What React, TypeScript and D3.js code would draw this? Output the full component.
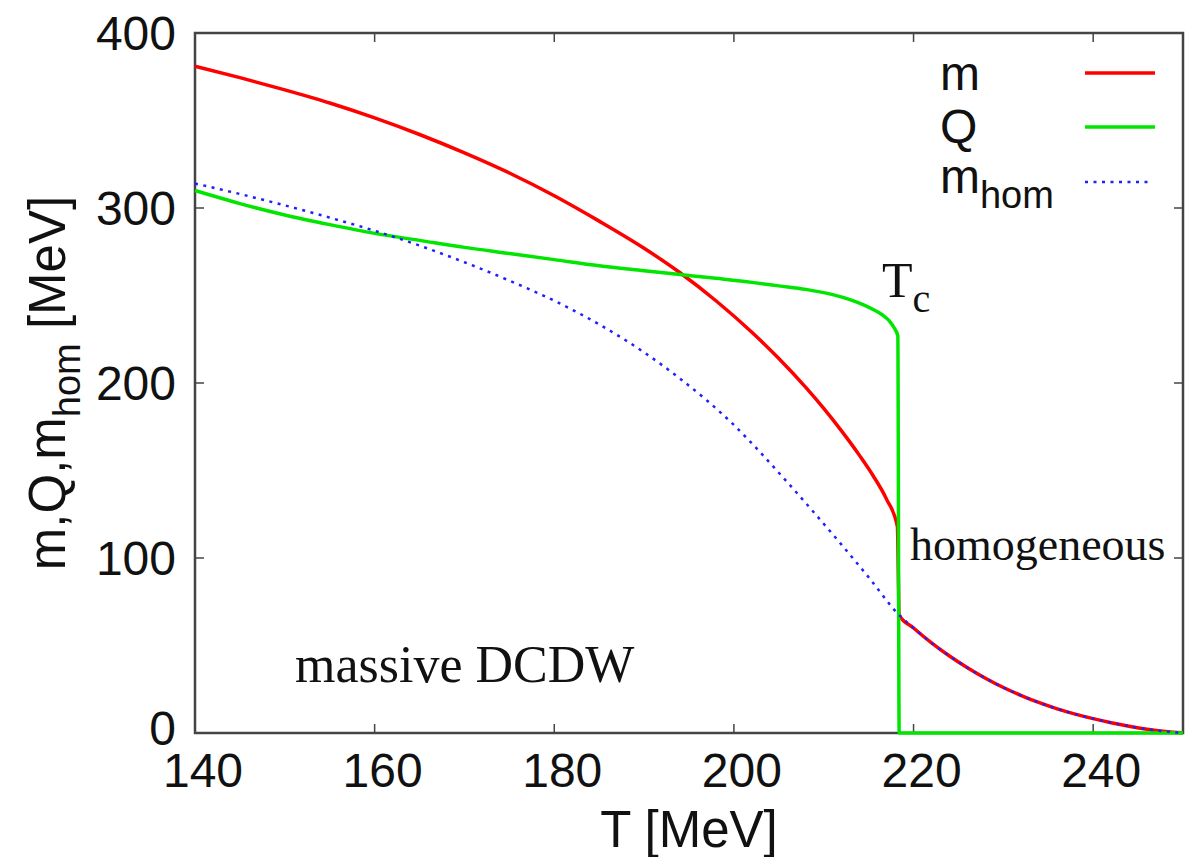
import React from "react";
import * as d3 from "d3";

// ---- data ----
const mT = [140, 145, 150, 155, 160, 165, 170, 175, 180, 185, 190, 194, 198, 202, 205, 208, 210, 212, 214, 215.5, 217, 218.2, 218.4, 220, 222, 224, 226, 228, 230, 232, 234, 236, 238, 240, 242, 244, 246, 248, 250];
const mV = [381, 374.5, 367.5, 360, 351.5, 342, 331.5, 320, 307, 292.5, 277, 263, 247, 229, 214, 197.5, 185.5, 172.5, 158.5, 147, 133.5, 118, 67.4, 60, 51.5, 44, 37.3, 31.3, 26, 21.4, 17.3, 13.8, 10.8, 8.2, 5.9, 3.9, 2.2, 0.9, 0];

const qT = [140, 145, 150, 155, 160, 165, 170, 175, 180, 185, 190, 194, 198, 202, 205, 208, 211, 213, 214.5, 215.5, 216.5, 217.3, 217.9, 218.25, 218.4, 225, 235, 250];
const qV = [310, 302.5, 296, 290.5, 285.5, 281.5, 277.5, 274, 270.5, 267, 264.2, 262, 259.8, 257.5, 255.5, 253.5, 250.5, 247.5, 244.5, 242, 239, 235.5, 231, 227, 0, 0, 0, 0];

const hT = [140, 145, 150, 155, 160, 165, 170, 175, 180, 185, 190, 194, 197, 200, 203, 206, 209, 212, 215, 218.4, 220, 222, 224, 226, 228, 230, 232, 234, 236, 238, 240, 242, 244, 246, 248, 250];
const hV = [314, 308, 301.5, 294.5, 287, 278.5, 269, 258.5, 247, 233.5, 217.5, 202.5, 190, 176, 160, 143, 125.5, 107.5, 89, 67.4, 60, 51.5, 44, 37.3, 31.3, 26, 21.4, 17.3, 13.8, 10.8, 8.2, 5.9, 3.9, 2.2, 0.9, 0];

const xTicks = [140, 160, 180, 200, 220, 240];
const yTicks = [0, 100, 200, 300, 400];

const SANS = "'Liberation Sans', Arial, Helvetica, sans-serif";
const SERIF = "'Liberation Serif', 'Times New Roman', serif";

export default function App() {
  const W = 1198, H = 857;
  const L = 195, R = 1183, T = 33, B = 733;
  const x = d3.scaleLinear().domain([140, 250]).range([L, R]);
  const y = d3.scaleLinear().domain([0, 400]).range([B, T]);

  const mk = (xs: number[], ys: number[]) =>
    d3.line<number>().x((_, i) => x(xs[i])).y((_, i) => y(ys[i])).curve(d3.curveMonotoneX)(xs) || "";

  const mPath = mk(mT, mV);
  const qPath = mk(qT, qV);
  const hPath = mk(hT, hV);

  const frame = "#444";
  const tickLen = 9;

  return (
    <svg width={W} height={H} style={{ position: "absolute", left: 0, top: 0, background: "#fff" }}>
      <rect x={0} y={0} width={W} height={H} fill="#fff" />
      <defs>
        <clipPath id="plotclip">
          <rect x={L - 2} y={T - 2} width={R - L + 4} height={B - T + 4} />
        </clipPath>
      </defs>

      {/* ticks */}
      {xTicks.map((t) => (
        <g key={"xt" + t}>
          <line x1={x(t)} x2={x(t)} y1={B} y2={B - tickLen} stroke={frame} strokeWidth={1.5} />
          <line x1={x(t)} x2={x(t)} y1={T} y2={T + tickLen} stroke={frame} strokeWidth={1.5} />
          <text x={x(t) + 8} y={787} textAnchor="middle" fontFamily={SANS} fontSize={48} fill="#111">
            {t}
          </text>
        </g>
      ))}
      {yTicks.map((t) => (
        <g key={"yt" + t}>
          <line x1={L} x2={L + tickLen} y1={y(t)} y2={y(t)} stroke={frame} strokeWidth={1.5} />
          <line x1={R} x2={R - tickLen} y1={y(t)} y2={y(t)} stroke={frame} strokeWidth={1.5} />
          <text x={176} y={y(t) - (t === 0 ? 5 : 0)} dy="0.36em" textAnchor="end" fontFamily={SANS} fontSize={48} fill="#111">
            {t}
          </text>
        </g>
      ))}

      {/* frame */}
      <rect x={L} y={T} width={R - L} height={B - T} fill="none" stroke={frame} strokeWidth={2.5} />

      {/* curves */}
      <g clipPath="url(#plotclip)" fill="none">
        <path d={mPath} stroke="#ff0000" strokeWidth={3.5} />
        <path d={qPath} stroke="#00e600" strokeWidth={3.5} />
        <path d={hPath} stroke="#2020ff" strokeWidth={2.5} strokeDasharray="3,5.5" />
      </g>

      {/* legend */}
      <g fontFamily={SANS} fill="#111">
        <text x={940} y={90} fontSize={48}>m</text>
        <line x1={1085} x2={1155} y1={73} y2={73} stroke="#ff0000" strokeWidth={3.5} />
        <text x={940} y={143} fontSize={48}>Q</text>
        <line x1={1085} x2={1155} y1={127} y2={127} stroke="#00e600" strokeWidth={3.5} />
        <text x={940} y={193} fontSize={48}>
          m<tspan fontSize={38} dy={15}>hom</tspan>
        </text>
        <line x1={1085} x2={1152} y1={182} y2={182} stroke="#2020ff" strokeWidth={2.5} strokeDasharray="3,5.5" />
      </g>

      {/* annotations */}
      <text x={882} y={297} fontFamily={SERIF} fontSize={50} fill="#111">
        T<tspan fontSize={40} dy={15}>c</tspan>
      </text>
      <text x={910} y={560} fontFamily={SERIF} fontSize={46} fill="#111">homogeneous</text>
      <text x={295} y={682} fontFamily={SERIF} fontSize={52} fill="#111">massive DCDW</text>

      {/* axis labels */}
      <text x={689} y={847} textAnchor="middle" fontFamily={SANS} fontSize={51} fill="#111">T [MeV]</text>
      <text
        transform={`translate(65,383) rotate(-90)`}
        textAnchor="middle"
        fontFamily={SANS}
        fontSize={51}
        fill="#111"
      >
        m,Q,m<tspan fontSize={38} dy={15}>hom</tspan>
        <tspan dy={-15}> [MeV]</tspan>
      </text>
    </svg>
  );
}
